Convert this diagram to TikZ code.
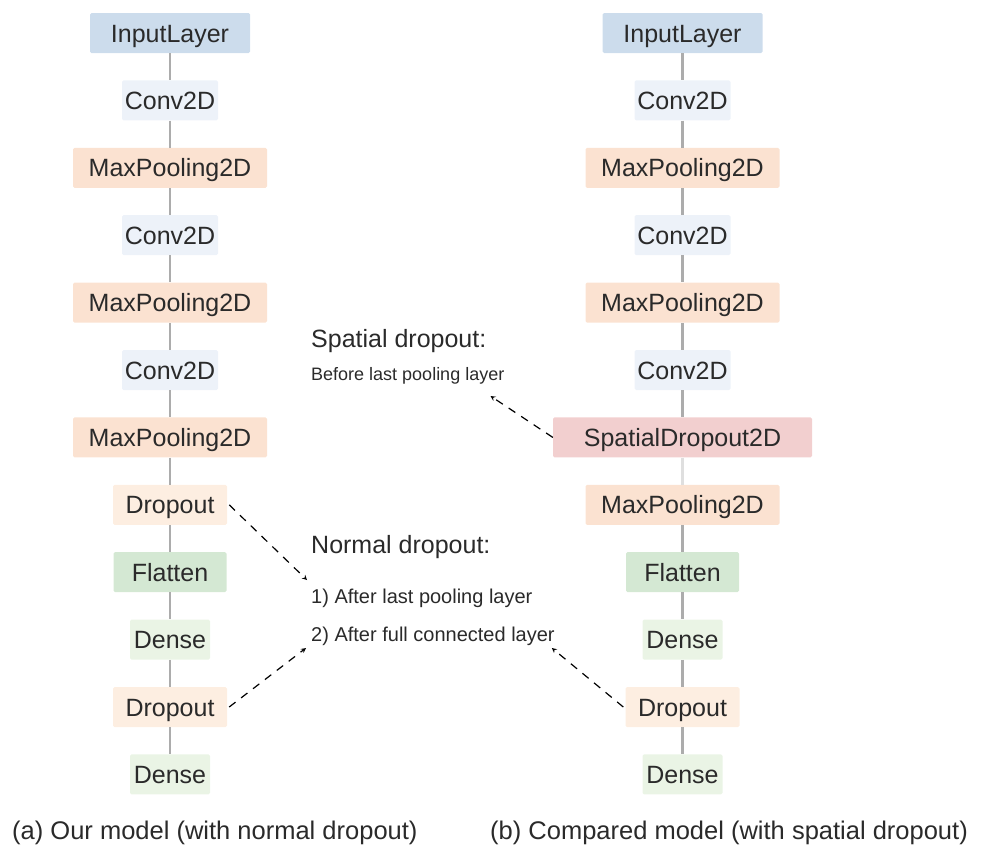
\documentclass[tikz,border=0pt]{standalone}
\usepackage{fontspec}
\setmainfont{Liberation Sans}
\usepackage{tikz}
\usetikzlibrary{positioning}
\definecolor{inpblue}{HTML}{CCDCEC}
\definecolor{convblue}{HTML}{EDF2F9}
\definecolor{poolpeach}{HTML}{FBE2D1}
\definecolor{droppeach}{HTML}{FDEEE1}
\definecolor{flatgreen}{HTML}{D4E8D3}
\definecolor{densegreen}{HTML}{EAF4E5}
\definecolor{sdpink}{HTML}{F2CFCF}
\definecolor{textgray}{HTML}{2A2A2A}
\tikzset{%
  layer/.style = {rectangle,rounded corners=1.5pt,inner xsep=0pt,
        inner ysep=0pt,minimum height=40pt,text height=18pt,
        text depth=0pt,text=textgray,
        font=\fontsize{25}{30}\selectfont},
  inp/.style = {layer,fill=inpblue,minimum width=160pt},
  conv/.style = {layer,fill=convblue,minimum width=96pt},
  pool/.style = {layer,fill=poolpeach,minimum width=194pt},
  drop/.style = {layer,fill=droppeach,minimum width=114pt},
  flat/.style = {layer,fill=flatgreen,minimum width=113pt},
  dense/.style = {layer,fill=densegreen,minimum width=80pt},
  sdrop/.style = {layer,fill=sdpink,minimum width=259pt},
  link/.style = {draw=gray!65,line width=2.5pt},
  note/.style = {anchor=base west,inner sep=0pt,text=textgray},
  dasharrow/.style = {-stealth,line width=1.2pt,
        dash pattern=on 8pt off 7pt}
}

\begin{document}
\begin{tikzpicture}[x=1pt,y=-1pt,node distance=27pt]
    \useasboundingbox (0,0) rectangle (981,847);
    % (a) model with normal dropout
    \node[inp] (a1) at (170,33) {InputLayer};
    \node[conv, below=of a1] (a2) {Conv2D};
    \node[pool, below=of a2] (a3) {MaxPooling2D};
    \node[conv, below=of a3] (a4) {Conv2D};
    \node[pool, below=of a4] (a5) {MaxPooling2D};
    \node[conv, below=of a5] (a6) {Conv2D};
    \node[pool, below=of a6] (a7) {MaxPooling2D};
    \node[drop, below=of a7] (a8) {Dropout};
    \node[flat, below=of a8] (a9) {Flatten};
    \node[dense, below=of a9] (a10) {Dense};
    \node[drop, below=of a10] (a11) {Dropout};
    \node[dense, below=of a11] (a12) {Dense};
    \foreach \i [evaluate=\i as \j using int(\i+1)] in {1,...,11}
        \draw[link] (a\i) -- (a\j);

    % (b) model with spatial dropout
    \node[inp] (b1) at (682.5,33) {InputLayer};
    \node[conv, below=of b1] (b2) {Conv2D};
    \node[pool, below=of b2] (b3) {MaxPooling2D};
    \node[conv, below=of b3] (b4) {Conv2D};
    \node[pool, below=of b4] (b5) {MaxPooling2D};
    \node[conv, below=of b5] (b6) {Conv2D};
    \node[sdrop, below=of b6] (b7) {SpatialDropout2D};
    \node[pool, below=of b7] (b8) {MaxPooling2D};
    \node[flat, below=of b8] (b9) {Flatten};
    \node[dense, below=of b9] (b10) {Dense};
    \node[drop, below=of b10] (b11) {Dropout};
    \node[dense, below=of b11] (b12) {Dense};
    \foreach \i [evaluate=\i as \j using int(\i+1)] in {1,...,6,8,9,10,11}
        \draw[link] (b\i) -- (b\j);
    \draw[link,draw=gray!25] (b7) -- (b8);

    % notes
    \node[note,font=\fontsize{25}{30}\selectfont] (sptitle) at (311,347) {Spatial dropout:};
    \node[note,font=\fontsize{18}{22}\selectfont] (spnote) at (311,380) {Before last pooling layer};
    \node[note,font=\fontsize{25}{30}\selectfont] (nmtitle) at (311,553) {Normal dropout:};
    \node[note,font=\fontsize{20}{24}\selectfont] (nm1) at (311,603) {1) After last pooling layer};
    \node[note,font=\fontsize{20}{24}\selectfont] (nm2) at (311,641) {2) After full connected layer};

    \draw[dasharrow] ([xshift=2pt]a8.east) -- ([xshift=-4pt,yshift=23pt]nm1.base west);
    \draw[dasharrow] ([xshift=2pt]a11.east) -- ([xshift=-5pt,yshift=-7pt]nm2.base west);
    \draw[dasharrow] (b7.west) -- ([xshift=-14pt,yshift=-16pt]spnote.base east);
    \draw[dasharrow] ([xshift=-2pt]b11.west) -- ([xshift=-3pt,yshift=-7pt]nm2.base east);

    % captions
    \node[note,font=\fontsize{25.5}{30}\selectfont] (capa) at (12,839) {(a) Our model (with normal dropout)};
    \node[note,font=\fontsize{25.5}{30}\selectfont] (capb) at (490,839) {(b) Compared model (with spatial dropout)};
\end{tikzpicture}
\end{document}
